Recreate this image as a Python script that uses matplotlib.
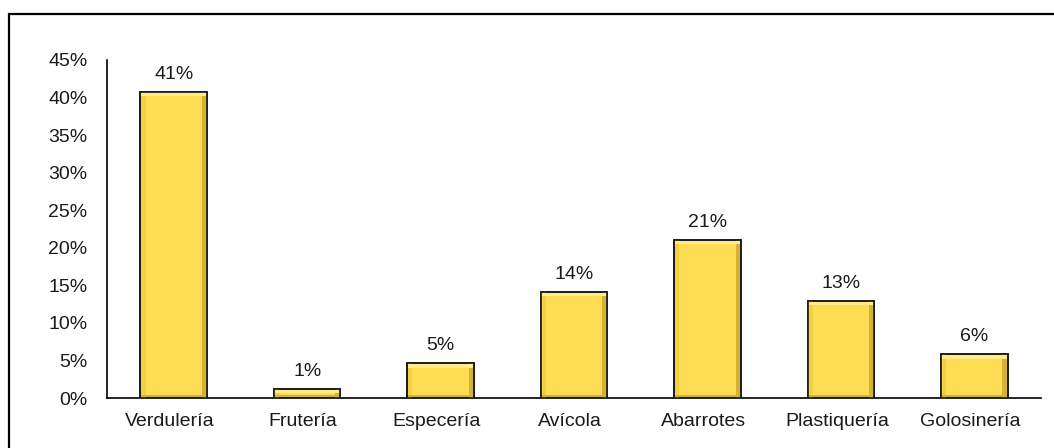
import numpy as np
import matplotlib
matplotlib.use('Agg')
import matplotlib.pyplot as plt
import matplotlib.transforms as mtransforms
from matplotlib.patches import Rectangle
from matplotlib.ticker import FuncFormatter, MultipleLocator

plt.rcParams['font.family'] = ['Liberation Sans', 'DejaVu Sans']

categories = ['Verdulería', 'Frutería', 'Especería', 'Avícola',
              'Abarrotes', 'Plastiquería', 'Golosinería']
values = [40.8, 1.2, 4.6, 14.1, 21.0, 12.9, 5.8]
labels = ['41%', '1%', '5%', '14%', '21%', '13%', '6%']

fig = plt.figure(figsize=(10.54, 4.48), dpi=100)
ax = fig.add_axes([0.1015, 0.1116, 0.8862, 0.7545])

x = np.arange(len(categories))
bw = 0.5
ax.bar(x, values, width=bw, color='#FEDD55', edgecolor='#1a1a1a',
       linewidth=1.2, zorder=2)

# bevel look: darker right/bottom strips, lighter top strip
edge = 0.035
ax.bar(x + bw / 2 - edge / 2 - 0.004, values, width=edge, color='#D6B234',
       linewidth=0, zorder=3)
ax.bar(x - bw / 2 + edge / 2 + 0.004, values, width=edge, color='#F2CF45',
       linewidth=0, zorder=3)
for xi, v in zip(x, values):
    ax.add_patch(Rectangle((xi - bw / 2 + 0.006, v - 0.55), bw - 0.012, 0.45,
                           facecolor='#FFEB8A', linewidth=0, zorder=3))
    ax.add_patch(Rectangle((xi - bw / 2 + 0.006, 0.08), bw - 0.012, 0.35,
                           facecolor='#D6B234', linewidth=0, zorder=3))
ax.bar(x, values, width=bw, facecolor='none', edgecolor='#1a1a1a',
       linewidth=1.2, zorder=4)

for xi, v, lab in zip(x, values, labels):
    ax.text(xi, v + 1.2, lab, ha='center', va='bottom', fontsize=14,
            color='#1a1a1a')

ax.set_xlim(-0.5, len(categories) - 0.5)
ax.set_ylim(0, 45)
ax.yaxis.set_major_locator(MultipleLocator(5))
ax.yaxis.set_major_formatter(FuncFormatter(lambda v, p: f'{v:.0f}%'))
ax.set_xticks(x)
ax.set_xticklabels(categories)
ax.tick_params(axis='y', length=0, pad=14, labelsize=14, labelcolor='#1a1a1a')
ax.tick_params(axis='x', length=0, pad=11, labelsize=14, labelcolor='#1a1a1a')

# category labels sit a few pixels left of the bar centres
shift = mtransforms.ScaledTranslation(-4 / 100, 0, fig.dpi_scale_trans)
for t in ax.get_xticklabels():
    t.set_transform(t.get_transform() + shift)

for s in ['top', 'right']:
    ax.spines[s].set_visible(False)
ax.spines['left'].set_linewidth(1.2)
ax.spines['bottom'].set_linewidth(1.2)

# outer chart frame (partly cut off on the right and bottom)
fig.patches.append(Rectangle((0.0085, -0.1), 1.05, 0.1 + 0.969, transform=fig.transFigure,
                             fill=False, edgecolor='black', linewidth=1.6,
                             clip_on=False))

fig.savefig('out.png', dpi=100)
